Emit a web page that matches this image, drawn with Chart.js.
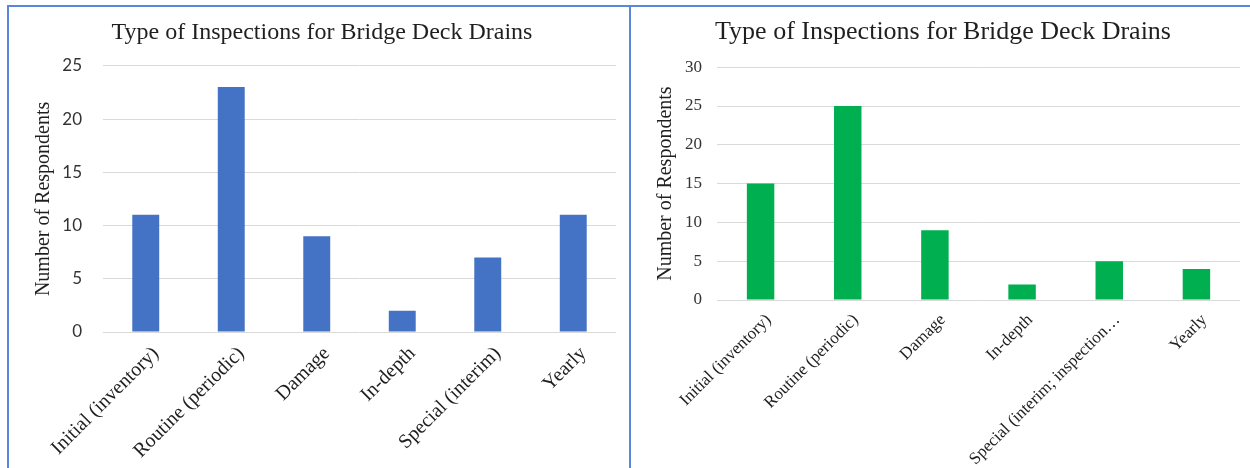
<!DOCTYPE html>
<html>
<head>
<meta charset="utf-8">
<script src="https://cdn.jsdelivr.net/npm/chart.js@4/dist/chart.umd.min.js"></script>
<style>
  html, body { margin: 0; padding: 0; background: #fff; }
  body { width: 1250px; height: 468px; position: relative; overflow: hidden; }
  .frame-top { position: absolute; left: 7px; top: 5px; width: 1243px; height: 2px; background: #5b87d8; }
  .frame-left { position: absolute; left: 7px; top: 5px; width: 2px; height: 463px; background: #5b87d8; }
  .frame-mid { position: absolute; left: 629px; top: 5px; width: 2px; height: 463px; background: #5b87d8; }
  canvas { position: absolute; }
  #left { left: 10px; top: 8px; }
  #right { left: 632px; top: 8px; }
</style>
</head>
<body>
<div class="frame-top"></div>
<div class="frame-left"></div>
<div class="frame-mid"></div>
<canvas id="left" width="618" height="460"></canvas>
<canvas id="right" width="618" height="460"></canvas>
<script>
// --- data ---
const chartTitle = 'Type of Inspections for Bridge Deck Drains';
const yAxisTitle = 'Number of Respondents';

const categoriesLeft = ['Initial (inventory)', 'Routine (periodic)', 'Damage', 'In-depth', 'Special (interim)', 'Yearly'];
const respondentsLeft = [11, 23, 9, 2, 7, 11];
const yMaxLeft = 25;

const categoriesRight = ['Initial (inventory)', 'Routine (periodic)', 'Damage', 'In-depth', 'Special (interim; inspection\u2026', 'Yearly'];
const respondentsRight = [15, 25, 9, 2, 5, 4];
const yMaxRight = 30;

const yStep = 5;

const serif = '"Liberation Serif", "Times New Roman", serif';
const sans = 'Lato, "Liberation Sans", sans-serif';

function drawChart(id, labels, values, color, yMax, cfg) {
  return new Chart(document.getElementById(id), {
    type: 'bar',
    data: {
      labels: labels,
      datasets: [{
        data: values,
        backgroundColor: color,
        borderWidth: 0,
        barPercentage: 0.315,
        categoryPercentage: 1
      }]
    },
    options: {
      responsive: false,
      animation: false,
      devicePixelRatio: 1,
      layout: { padding: { left: cfg.padLeft, right: cfg.padRight, top: 0, bottom: 0 } },
      plugins: {
        legend: { display: false },
        tooltip: { enabled: false },
        title: {
          display: true,
          text: chartTitle,
          color: '#1f1f1f',
          font: { family: serif, size: cfg.titleSize, weight: 'normal' },
          padding: { top: cfg.titleTop, bottom: cfg.titleBottom }
        }
      },
      scales: {
        x: {
          grid: { display: false },
          border: { display: false },
          ticks: {
            color: '#1f1f1f',
            font: { family: serif, size: cfg.xSize },
            minRotation: 45,
            maxRotation: 45,
            autoSkip: false,
            padding: 2,
            labelOffset: cfg.xShift
          },
          afterFit: (scale) => { scale.height = cfg.xHeight; }
        },
        y: {
          min: 0,
          max: yMax,
          grid: { color: '#d9d9d9', lineWidth: 1, drawTicks: false },
          border: { display: false },
          ticks: {
            stepSize: yStep,
            color: '#333333',
            font: { family: cfg.yFont, size: cfg.ySize },
            padding: cfg.yPad
          },
          title: {
            display: true,
            text: yAxisTitle,
            color: '#1f1f1f',
            font: { family: serif, size: 20 },
            padding: { top: cfg.yTitlePad, bottom: 0 }
          },
          afterFit: (scale) => { scale.width = cfg.yWidth; }
        }
      }
    }
  });
}

drawChart('left', categoriesLeft, respondentsLeft, '#4472c4', yMaxLeft, {
  padLeft: 18, padRight: 12, titleSize: 24, titleTop: 10, titleBottom: 19,
  xSize: 20, xShift: 10, xHeight: 136, yFont: sans, ySize: 17, yPad: 21,
  yTitlePad: 4, yWidth: 75
});

drawChart('right', categoriesRight, respondentsRight, '#00b050', yMaxRight, {
  padLeft: 14, padRight: 10, titleSize: 26, titleTop: 9, titleBottom: 19,
  xSize: 17, xShift: 8, xHeight: 168, yFont: serif, ySize: 17, yPad: 15,
  yTitlePad: 8, yWidth: 71
});
</script>
</body>
</html>
